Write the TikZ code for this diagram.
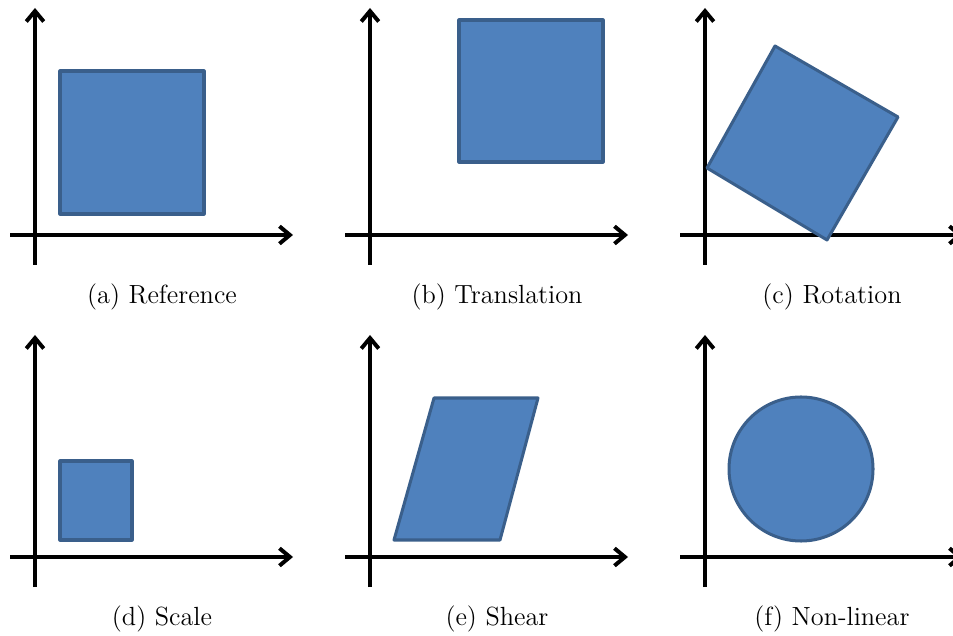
\documentclass[tikz,border=0pt]{standalone}
\usepackage{tikz}
\usetikzlibrary{arrows.meta}

\definecolor{shapefill}{HTML}{4F81BD}
\definecolor{shapeline}{HTML}{3A5F8B}

\tikzset{
  axis/.style={line width=1.7pt, -{Straight Barb[length=4.5pt,width=7.5pt,line width=1.7pt]}},
  blob/.style={fill=shapefill, draw=shapeline, line width=1.3pt, line join=round},
  caption/.style={font=\fontsize{11.3}{13.5}\selectfont}
}

\begin{document}
\begin{tikzpicture}[x=0.43pt, y=-0.43pt]
        % Fix the page size
        \useasboundingbox (0,0) rectangle (953,636);

        % Axes and captions for the six panels
        \foreach \ox/\oy/\tp/\lab/\nm in {35/235/227/(a) Reference/capa, 370/235/227/(b) Translation/capb,
                                          705/235/227/(c) Rotation/capc, 35/557/222/(d) Scale/capd,
                                          370/557/222/(e) Shear/cape, 705/557/222/(f) Non-linear/capf} {
            \draw[axis] (\ox-25,\oy) -- (\ox+258,\oy);
            \draw[axis] (\ox,\oy+30) -- (\ox,\oy-\tp);
            \node[caption] (\nm) at (\ox+127,\oy+62) {\lab};
        }

        % Reference
        \draw[blob] (60,71) rectangle (204,214);
        % Translation
        \draw[blob] (459,20) rectangle (603,162);
        % Rotation
        \draw[blob] (775,46) -- (898,117) -- (827,240) -- (707,168) -- cycle;
        % Scale
        \draw[blob] (60,461) rectangle (132,540);
        % Shear
        \draw[blob] (394,540) -- (500,540) -- (538,398) -- (434,398) -- cycle;
        % Non-linear
        \draw[blob] (801,469) circle[radius=72];
    \end{tikzpicture}
\end{document}
